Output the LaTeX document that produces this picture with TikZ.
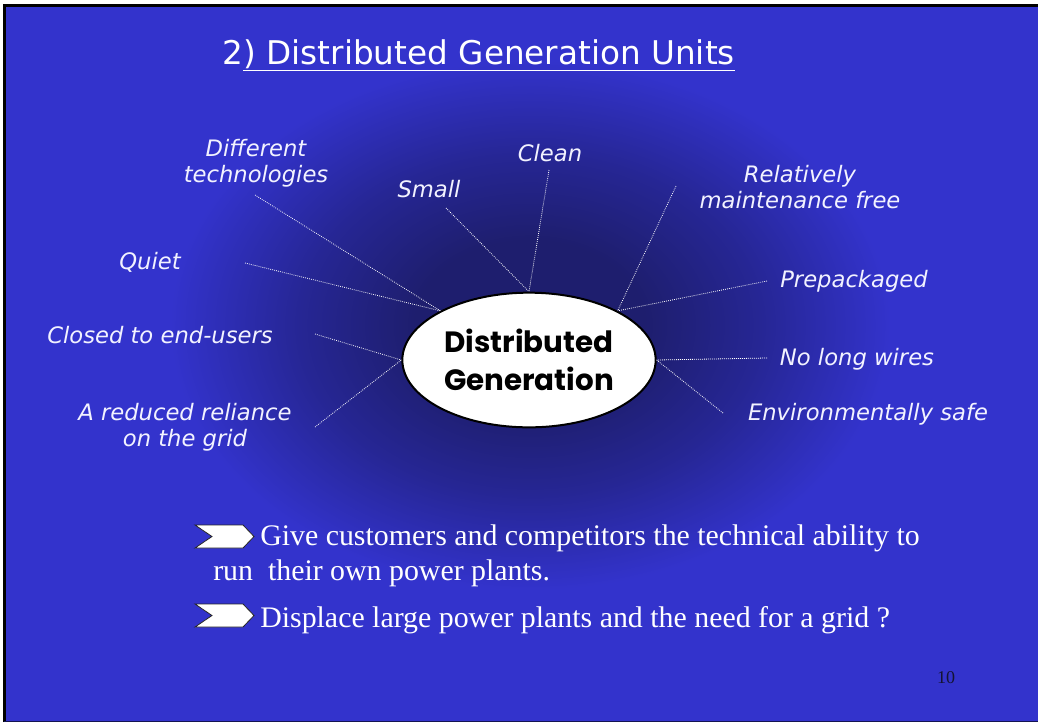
\documentclass[tikz,border=0pt]{standalone}
\usepackage{fontspec}
\usetikzlibrary{shapes.geometric}
\setmainfont{Liberation Serif}
\newfontfamily\labfont{DejaVu Sans}
\newfontfamily\dgfont{Poppins}

\definecolor{slidebg}{RGB}{51,51,204}
\definecolor{glowdark}{RGB}{30,30,110}
\definecolor{glowmid}{RGB}{38,38,148}
\definecolor{lbltext}{RGB}{242,242,255}
\definecolor{pagenum}{RGB}{20,20,50}

% dark halo behind the central ellipse (path spans radius 25bp)
\pgfdeclareradialshading{centreglow}{\pgfpoint{0bp}{0bp}}{%
  color(0bp)=(glowdark); color(8bp)=(glowdark); color(16bp)=(glowmid);
  color(25bp)=(slidebg); color(50bp)=(slidebg)}

\begin{document}
\begin{tikzpicture}[x=0.75pt, y=-0.75pt,
  lbl/.style={font=\labfont\itshape\fontsize{17}{19.5}\selectfont,
              text=lbltext, align=center, inner sep=0},
  link/.style={draw=white, line width=0.6pt, dash pattern=on 0.6pt off 0.9pt},
  dgnode/.style={ellipse, draw=black, fill=white, line width=1.5pt,
                 minimum width=190pt, minimum height=101pt, inner sep=0,
                 font=\dgfont\bfseries\fontsize{22}{28.5}\selectfont, align=center},
  bul/.style={font=\fontsize{22.4}{27}\selectfont, text=white, inner sep=0, anchor=base west},
  chevron/.style={fill=white, draw=black!85, line width=0.6pt, line join=miter},
  ttlfont/.style={font=\labfont\fontsize{24.5}{28}\selectfont, text=white, inner sep=0}
]
\useasboundingbox (0,0) rectangle (1039,722);

% slide background and frame
\fill[white] (0,0) rectangle (1039,722);
\fill[slidebg] (4,5) rectangle (1038,722);
\fill[shading=centreglow] (170,60) rectangle (890,590);
\draw[black, line width=2.2pt] (4.4,722) -- (4.4,5.6) -- (1038,5.6);
\draw[black!60!slidebg, line width=0.75pt] (4,721.5) -- (1038,721.5);

% title
\node[ttlfont, anchor=base west] (tnum) at (222,64) {2};
\node[ttlfont, anchor=base west] (ttl) at (tnum.base east) {) Distributed Generation Units};
\draw[white, line width=1.3pt] ([yshift=-1.5pt]ttl.south west) -- ([yshift=-1.5pt]ttl.south east);

% central ellipse
\node[dgnode] (dg) at (529,360) {Distributed\\ Generation};

% surrounding labels
\node[lbl] (diff)   at (256,163) {Different\\technologies};
\node[lbl] (small)  at (429,189) {Small};
\node[lbl] (clean)  at (550,153) {Clean};
\node[lbl] (rel)    at (800,187) {Relatively\\maintenance free};
\node[lbl] (quiet)  at (150,262) {Quiet};
\node[lbl] (prep)   at (854,281) {Prepackaged};
\node[lbl] (closed) at (160,335) {Closed to end-users};
\node[lbl] (nolong) at (857,359) {No long wires};
\node[lbl] (reduce) at (185,427) {A reduced reliance\\on the grid};
\node[lbl] (env)    at (868,414) {Environmentally safe};

% outer ends of the dotted spokes
\coordinate (eDiff)   at (255,195);
\coordinate (eSmall)  at (446,208);
\coordinate (eClean)  at (549,170);
\coordinate (eRel)    at (676,186);
\coordinate (ePrep)   at (767,281);
\coordinate (eQuiet)  at (245,263);
\coordinate (eClosed) at (315,334);
\coordinate (eReduce) at (315,427);
\coordinate (eNo)     at (767,358);
\coordinate (eEnv)    at (723,413);

\draw[link] (eDiff)   -- (dg.151.5);
\draw[link] (eQuiet)  -- (dg.151.5);
\draw[link] (eSmall)  -- (dg.north);
\draw[link] (eClean)  -- (dg.north);
\draw[link] (eRel)    -- (dg.29);
\draw[link] (ePrep)   -- (dg.29);
\draw[link] (eClosed) -- (dg.west);
\draw[link] (eReduce) -- (dg.west);
\draw[link] (eNo)     -- (dg.east);
\draw[link] (eEnv)    -- (dg.east);

% bullet chevrons
\draw[chevron] (195,525) -- (243,525) -- (254,536.5) -- (243,548) -- (195,548) -- (212,536.5) -- cycle;
\draw[chevron] (195,604) -- (243,604) -- (254,615.5) -- (243,627) -- (195,627) -- (212,615.5) -- cycle;

% bullet text
\node[bul] (b1a) at (260,545) {Give customers and competitors the technical ability to};
\node[bul] (b1b) at (213,580) {run\ \ their own power plants.};
\node[bul] (b2)  at (260,627) {Displace large power plants and the need for a grid ?};

% page number
\node[font=\fontsize{13.5}{16}\selectfont, text=pagenum, inner sep=0] (pg) at (946,678) {10};
\end{tikzpicture}
\end{document}
